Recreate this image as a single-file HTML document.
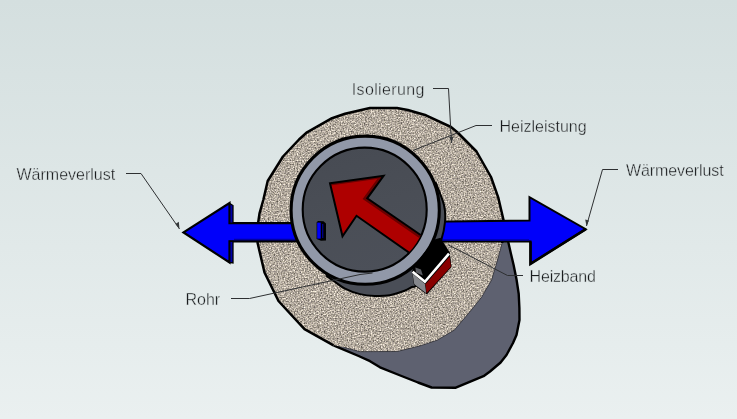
<!DOCTYPE html>
<html><head><meta charset="utf-8">
<style>
html,body{margin:0;padding:0;width:737px;height:419px;overflow:hidden;background:#dfe7e7;}
svg{display:block;}
text{font-family:"Liberation Sans",sans-serif;font-size:16px;fill:#1a1c1e;stroke:#dbe4e4;stroke-width:0.35px;}
</style></head>
<body>
<svg width="737" height="419" viewBox="0 0 737 419">
<defs>
<linearGradient id="bg" x1="0" y1="0" x2="0" y2="1">
<stop offset="0" stop-color="#d4dfdf"/>
<stop offset="1" stop-color="#eaf0f0"/>
</linearGradient>
<linearGradient id="intg" x1="0.3" y1="0" x2="0.6" y2="1">
<stop offset="0" stop-color="#474b53"/>
<stop offset="0.5" stop-color="#4a4e56"/>
<stop offset="1" stop-color="#4c5059"/>
</linearGradient>
<filter id="grain" x="0" y="0" width="100%" height="100%" color-interpolation-filters="sRGB">
<feTurbulence type="fractalNoise" baseFrequency="0.7" numOctaves="3" seed="5" result="n"/>
<feColorMatrix in="n" type="matrix" values="1 0 0 0 0  0.97 0.03 0 0 0  0.92 0 0.08 0 0  0 0 0 0 1" result="g"/>
<feComposite in="SourceGraphic" in2="g" operator="arithmetic" k1="0" k2="1" k3="0.95" k4="-0.475" result="t"/>
<feComposite in="t" in2="SourceAlpha" operator="in"/>
</filter>
<clipPath id="inner"><circle cx="364.7" cy="209.6" r="61.5"/></clipPath>
</defs>
<rect width="737" height="419" fill="url(#bg)"/>
<!-- cylinder -->
<path d="M333.5,345.3 L358.6,356.0 L370.0,361.2 L380.0,367.3 L399.0,375.0 L418.0,382.5 L431.6,387.5 L455.8,387.7 L483.5,376.2 L490.0,371.5 L500.6,362.5 L506.5,355.0 L513.0,343.0 L516.5,335.0 L519.5,320.0 L519.4,308.0 L518.7,293.7 L516.5,279.3 L513.6,265.0 L511.0,254.0 L508.5,243.0 L505.0,228.0 L470,250 L400,300 Z" fill="#5e6170"/>
<path d="M333.5,345.3 L358.6,356.0 L370.0,361.2 L380.0,367.3 L399.0,375.0 L418.0,382.5 L431.6,387.5 L455.8,387.7 L483.5,376.2 L490.0,371.5 L500.6,362.5 L506.5,355.0 L513.0,343.0 L516.5,335.0 L519.5,320.0 L519.4,308.0 L518.7,293.7 L516.5,279.3 L513.6,265.0 L511.0,254.0 L508.5,243.0 L505.0,228.0" fill="none" stroke="#000" stroke-width="2.4" stroke-linejoin="round"/>
<!-- insulation -->
<polygon points="369.9,108.0 397.0,108.0 407.8,110.0 426.0,115.3 451.0,127.0 457.6,132.5 476.5,151.5 491.0,177.0 498.2,197.4 503.5,220.0 502.2,243.0 497.0,262.0 491.6,280.0 481.6,297.2 470.1,311.5 454.4,330.1 437.2,340.2 420.0,345.9 397.2,351.5 360.3,351.7 344.4,347.6 333.5,345.3 304.5,329.2 289.5,313.0 278.5,301.0 264.5,272.5 257.6,243.0 258.0,223.6 259.6,213.0 263.3,200.0 267.7,181.0 283.0,156.5 299.0,139.5 307.0,132.3 332.0,118.2 345.0,113.8" fill="#b3aa9e" filter="url(#grain)"/>
<polyline points="502.2,243.0 503.5,220.0 498.2,197.4 491.0,177.0 476.5,151.5 457.6,132.5 451.0,127.0 426.0,115.3 407.8,110.0 397.0,108.0 369.9,108.0 345.0,113.8 332.0,118.2 307.0,132.3 299.0,139.5 283.0,156.5 267.7,181.0 263.3,200.0 259.6,213.0 258.0,223.6 257.6,243.0 264.5,272.5 278.5,301.0 289.5,313.0 304.5,329.2 333.5,345.3 333.5,345.3" fill="none" stroke="#000" stroke-width="2.5" stroke-linejoin="round"/>
<polyline points="502.2,243 497,262 491.6,280 481.6,297.2 470.1,311.5 454.4,330.1 437.2,340.2 420,345.9 397.2,351.5 360.3,351.7 344.4,347.6" fill="none" stroke="#3a3a40" stroke-width="0.8"/>
<!-- blue arrows -->
<g stroke="#000" stroke-width="2.2" stroke-linejoin="miter">
<polygon points="183.5,232.4 229.5,203 229.5,223.2 300,223.2 300,241.3 229.5,241.3 229.5,262.5" fill="#0000fa"/>
<polygon points="229.8,203.5 233,205.5 233,223.2 229.8,223.2" fill="#0000a8" stroke-width="1.3"/>
<polygon points="229.8,241.3 233,241.3 233,263 229.8,262.5" fill="#0000a8" stroke-width="1.3"/>
<polygon points="430,221.7 529.5,220.5 529.5,197.2 585.8,229.2 530.5,263.8 530.5,241.6 430,241.6" fill="#0000fa" stroke-width="2"/>
<polyline points="585.8,229.2 530.5,263.8 530.5,241.6" fill="none" stroke-width="2.6"/>
</g>
<line x1="234" y1="239.4" x2="300" y2="239.4" stroke="#0000a0" stroke-width="1.2"/>
<line x1="440" y1="239.9" x2="529" y2="239.9" stroke="#0000a0" stroke-width="1.2"/>
<!-- pipe wall -->
<path d="M326.0,275.5 C327.3,276.4 330.8,279.0 334.0,281.2 C337.2,283.4 340.7,286.5 345.0,288.6 C349.3,290.8 354.9,292.9 359.8,294.1 C364.8,295.3 369.7,295.8 374.7,296.0 C379.7,296.2 384.6,296.2 389.6,295.3 C394.6,294.4 400.9,292.2 404.6,290.8 C408.3,289.4 409.9,288.0 412.0,287.0 C414.1,286.0 413.7,288.7 417.0,284.7 C420.3,280.7 428.0,270.3 432.0,263.0 C436.0,255.7 438.8,247.8 441.0,241.0 C443.2,234.2 444.5,228.0 445.0,222.0 C445.5,216.0 445.6,211.7 444.0,205.0 C442.4,198.3 436.9,185.8 435.5,182.0 L365,210 Z" fill="#4a4e57"/><path d="M326.0,275.5 C327.3,276.4 330.8,279.0 334.0,281.2 C337.2,283.4 340.7,286.5 345.0,288.6 C349.3,290.8 354.9,292.9 359.8,294.1 C364.8,295.3 369.7,295.8 374.7,296.0 C379.7,296.2 384.6,296.2 389.6,295.3 C394.6,294.4 400.9,292.2 404.6,290.8 C408.3,289.4 409.9,288.0 412.0,287.0 C414.1,286.0 413.7,288.7 417.0,284.7 C420.3,280.7 428.0,270.3 432.0,263.0 C436.0,255.7 438.8,247.8 441.0,241.0 C443.2,234.2 444.5,228.0 445.0,222.0 C445.5,216.0 445.6,211.7 444.0,205.0 C442.4,198.3 436.9,185.8 435.5,182.0" fill="none" stroke="#000" stroke-width="2"/>
<!-- ring -->
<circle cx="365.2" cy="210.2" r="74.1" fill="#9198a8" stroke="#000" stroke-width="3.1"/>
<circle cx="364.7" cy="209.6" r="62" fill="url(#intg)" stroke="#000" stroke-width="2.1"/>
<!-- red arrow -->
<g clip-path="url(#inner)">
<clipPath id="redclip"><polygon points="330,183.3 383.6,175.8 367.2,198.3 440,248.3 440,274.3 356.5,215.8 342.5,236.3"/></clipPath>
<polygon points="330,183.3 383.6,175.8 367.2,198.3 440,248.3 440,274.3 356.5,215.8 342.5,236.3" fill="#ae0000"/>
<g clip-path="url(#redclip)" fill="none" stroke="#680000" stroke-linejoin="miter">
<polyline points="330,183.3 383.6,175.8" stroke-width="4.5"/>
<polyline points="383.6,175.8 367.2,198.3 440,248.3" stroke-width="6.5"/>
</g>
<polygon points="330,183.3 383.6,175.8 367.2,198.3 440,248.3 440,274.3 356.5,215.8 342.5,236.3" fill="none" stroke="#000" stroke-width="2" stroke-linejoin="miter"/>
</g>
<!-- small blue tab -->
<polygon points="316.6,222.2 318,221 323.5,221.3 326,223.5 326,240.5 321,240.8 316.6,239" fill="#000"/><rect x="317.2" y="222.6" width="3.5" height="16" fill="#0000fa"/><rect x="322.2" y="224" width="1.1" height="14" fill="#0000a0"/>
<!-- heater box -->
<polygon points="412,271.5 413.9,266 434.6,239.4 440.5,237.8 449.8,252.5 451.5,267 426.8,294.5 414,285" fill="#000"/>
<polygon points="414.3,284.2 412.5,273.5 425,284 426.2,293.2" fill="#85878c"/>
<polygon points="425.5,284.3 449.6,256.6 450.9,266.8 426.6,293.2" fill="#880000"/>
<polyline points="412.6,271.8 424.9,281.8 449,253.6" fill="none" stroke="#fff" stroke-width="2.6" stroke-linejoin="miter"/>
<polygon points="415.4,267.5 421,269.5 422.8,275.5 416,272.5" fill="#5a5c62"/>
<!-- leader lines -->
<g fill="none" stroke="#2e3032" stroke-width="1">
<polyline points="126,173.5 141,173.5 179.5,229"/>
<polyline points="433,88.5 448.5,88.5 451.5,143"/>
<polyline points="492,125.5 476,125.5 413,150.5"/>
<polyline points="618,169.5 602.5,169.5 586.5,226"/>
<polyline points="231,298.5 249.5,298.5 300,287.5 360,274.5 372.5,273"/>
<polyline points="523,275.5 507.5,275.5 448.6,245"/>
</g>
<g fill="#35383a">
<polygon points="179.5,229 175.5,224 178.8,221.8"/>
<polygon points="451.7,143.5 449.4,137 453.4,136.8"/>
<polygon points="586.5,226 585.2,219.6 589,220.6"/>
</g>
<g style="will-change:transform">
<text x="16.5" y="180">Wärmeverlust</text>
<text x="351.8" y="95" letter-spacing="0.35">Isolierung</text>
<text x="499.5" y="132">Heizleistung</text>
<text x="626" y="175.5" letter-spacing="-0.1">Wärmeverlust</text>
<text x="185.5" y="304.8">Rohr</text>
<text x="529.6" y="281.6" letter-spacing="-0.2">Heizband</text>
</g>
</svg>
</body></html>
